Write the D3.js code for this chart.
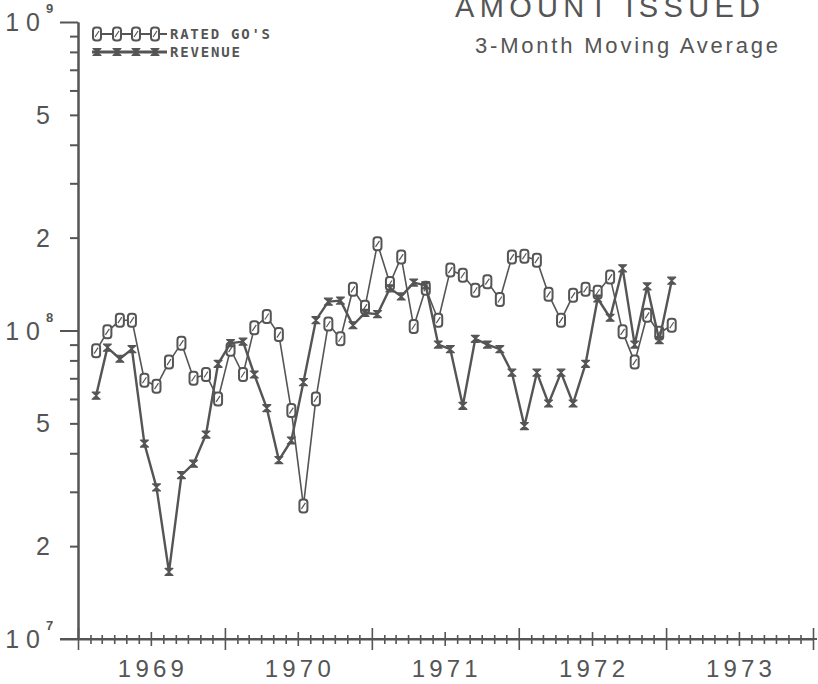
<!DOCTYPE html>
<html>
<head>
<meta charset="utf-8">
<script src="https://cdn.jsdelivr.net/npm/d3@7"></script>
<style>
  body { margin: 0; background: #fff; }
  svg { display: block; }
  text { fill: #555; font-family: "Liberation Sans", Arial, sans-serif; }
  .axis path, .axis line { stroke: #555; stroke-width: 2; }
</style>
</head>
<body>
<div id="chart"></div>
<script>
// Month of each 3-month moving average point
var months = ["1969-02","1969-03","1969-04","1969-05","1969-06","1969-07","1969-08","1969-09","1969-10","1969-11","1969-12",
  "1970-01","1970-02","1970-03","1970-04","1970-05","1970-06","1970-07","1970-08","1970-09","1970-10","1970-11","1970-12",
  "1971-01","1971-02","1971-03","1971-04","1971-05","1971-06","1971-07","1971-08","1971-09","1971-10","1971-11","1971-12",
  "1972-01","1972-02","1972-03","1972-04","1972-05","1972-06","1972-07","1972-08","1972-09","1972-10","1972-11","1972-12",
  "1973-01"];

// Amount issued, millions of dollars
var rated = [86, 99, 108, 108, 69, 66, 79, 91, 70, 72, 60,
  87, 72, 102, 111, 97, 55, 27, 60, 105, 94, 136, 119,
  191, 142, 173, 103, 137, 108, 157, 151, 135, 144, 126, 173,
  174, 169, 131, 108, 130, 136, 133, 149, 99, 79, 112, 98,
  104];
var revenue = [61.5, 88, 81, 87, 43, 31, 16.5, 34, 37, 46, 78,
  91, 92, 72, 56, 38, 44, 68, 108, 124, 125, 104, 114,
  113, 137, 129, 143, 140, 90, 87, 57, 94, 90, 87, 73,
  49, 73, 58, 73, 58, 78, 127, 110, 159, 90, 139, 93,
  145];

// Axis labels
var years = [1969, 1970, 1971, 1972, 1973];
var yLabels = [1e7, 2e7, 5e7, 1e8, 2e8, 5e8, 1e9];
var legendNames = ["RATED GO'S", "REVENUE"];

(function() {

    var width = 818, height = 684;
    var margin = { top: 22, left: 78, right: 5, bottom: 45 };
    var ink = "#555";

    var svg = d3.select("#chart")
        .append("svg")
        .attr("width", width)
        .attr("height", height);

    var parseMonth = d3.timeParse("%Y-%m");
    // Points sit in the middle of their month
    var dates = months.map(function(m) { return d3.timeDay.offset(parseMonth(m), 14); });

    var x = d3.scaleTime()
        .domain([new Date(1969, 0, 1), new Date(1974, 0, 1)])
        .range([margin.left, width - margin.right]);

    var y = d3.scaleLog()
        .domain([1e7, 1e9])
        .range([height - margin.bottom, margin.top]);

    // Y axis: decade ticks long, the others short
    var decades = [1e7, 1e8, 1e9];
    var minors = [];
    [1e7, 1e8].forEach(function(d) {
        for (var i = 2; i < 10; i++) minors.push(d * i);
    });

    svg.append("g")
        .attr("class", "axis")
        .attr("transform", "translate(" + margin.left + ",0)")
        .call(d3.axisLeft(y).tickValues(decades).tickSize(18).tickSizeOuter(0).tickFormat(""));
    svg.append("g")
        .attr("class", "axis")
        .attr("transform", "translate(" + margin.left + ",0)")
        .call(d3.axisLeft(y).tickValues(minors).tickSize(8).tickSizeOuter(0).tickFormat(""));

    // Y labels: "10" with exponent, or just the digit
    yLabels.forEach(function(v) {
        var e = Math.floor(Math.log10(v) + 1e-9);
        var lead = Math.round(v / Math.pow(10, e));
        var t = svg.append("text")
            .attr("x", 50)
            .attr("y", y(v) + 9)
            .attr("text-anchor", "end")
            .style("font-size", "25px");
        if (lead == 1) {
            t.attr("x", 47).style("letter-spacing", "7px").text("10");
            svg.append("text")
                .attr("x", 46)
                .attr("y", y(v) - 9)
                .style("font-size", "13px")
                .style("font-weight", "bold")
                .text(e);
        } else {
            t.text(lead);
        }
    });

    // X axis: month, half-year and year ticks all cross the line
    var allMonths = d3.timeMonth.range(x.domain()[0], d3.timeMonth.offset(x.domain()[1], 1));
    var tickSets = [
        { vals: allMonths.filter(function(d) { return d.getMonth() != 0 && d.getMonth() != 6; }), up: 4, down: 5 },
        { vals: allMonths.filter(function(d) { return d.getMonth() == 6; }), up: 7, down: 7 },
        { vals: allMonths.filter(function(d) { return d.getMonth() == 0; }), up: 11, down: 11 }
    ];
    tickSets.forEach(function(s, i) {
        var g = svg.append("g")
            .attr("class", "axis")
            .attr("transform", "translate(0," + y(1e7) + ")")
            .call(d3.axisBottom(x).tickValues(s.vals).tickSize(s.down).tickSizeOuter(0).tickFormat(""));
        g.selectAll(".tick line").attr("y1", -s.up).style("stroke-width", 1.6);
        if (i > 0) g.select(".domain").remove();
    });
    // extend the base line left to meet the 10^7 tick
    svg.append("line")
        .attr("x1", margin.left - 18).attr("x2", width - 1)
        .attr("y1", y(1e7)).attr("y2", y(1e7))
        .attr("stroke", ink).attr("stroke-width", 2);

    // Year labels centred in each year
    svg.selectAll(".year")
        .data(years)
        .enter().append("text")
        .attr("class", "year")
        .attr("x", function(d) { return x(new Date(d, 6, 1)); })
        .attr("y", 677)
        .attr("text-anchor", "middle")
        .attr("textLength", 66)
        .attr("lengthAdjust", "spacing")
        .style("font-size", "24px")
        .text(function(d) { return d; });

    // Titles (the first one is cut by the top edge, as in the source)
    svg.append("text")
        .attr("x", 455).attr("y", 17)
        .attr("textLength", 305).attr("lengthAdjust", "spacing")
        .style("font-size", "29px")
        .text("AMOUNT ISSUED");
    svg.append("text")
        .attr("x", 475).attr("y", 53)
        .attr("textLength", 303).attr("lengthAdjust", "spacing")
        .style("font-size", "22px")
        .text("3-Month Moving Average");

    // Marker shapes
    function zeroMark(sel) {
        sel.append("rect")
            .attr("x", -4).attr("y", -6.5).attr("width", 8).attr("height", 13)
            .attr("rx", 3).attr("ry", 3)
            .attr("fill", "#fff").attr("stroke", ink).attr("stroke-width", 2);
        sel.append("line")
            .attr("x1", -2).attr("y1", 3).attr("x2", 2).attr("y2", -3)
            .attr("stroke", ink).attr("stroke-width", 1.2);
    }
    function bowMark(sel) {
        sel.append("path")
            .attr("d", "M-4,-3.5H4L-4,3.5H4Z")
            .attr("fill", ink).attr("stroke", ink).attr("stroke-width", 1.2)
            .attr("stroke-linejoin", "round");
    }

    var line = d3.line()
        .x(function(d) { return x(d.date); })
        .y(function(d) { return y(d.value * 1e6); });

    var series = [
        { name: legendNames[0], values: rated, width: 1.6, mark: zeroMark },
        { name: legendNames[1], values: revenue, width: 2.4, mark: bowMark }
    ];

    series.forEach(function(s) {
        var pts = s.values.map(function(v, i) { return { date: dates[i], value: v }; });
        svg.append("path")
            .datum(pts)
            .attr("d", line)
            .attr("fill", "none")
            .attr("stroke", ink)
            .attr("stroke-width", s.width)
            .attr("stroke-linejoin", "round");
        svg.selectAll(null)
            .data(pts)
            .enter().append("g")
            .attr("transform", function(d) { return "translate(" + x(d.date) + "," + y(d.value * 1e6) + ")"; })
            .call(s.mark);
    });

    // Legend
    var legend = svg.append("g").attr("transform", "translate(92,34)");
    series.forEach(function(s, i) {
        var row = legend.append("g").attr("transform", "translate(0," + (i * 18) + ")");
        row.append("line")
            .attr("x1", 0).attr("x2", 75)
            .attr("stroke", ink).attr("stroke-width", s.width + 0.4);
        [5, 25, 44, 63].forEach(function(px) {
            row.append("g").attr("transform", "translate(" + px + ",0)").call(s.mark);
        });
        row.append("text")
            .attr("x", 78).attr("y", 5)
            .attr("textLength", s.name.length * 10)
            .attr("lengthAdjust", "spacing")
            .style("font-family", "'DejaVu Sans Mono', monospace")
            .style("font-weight", "bold")
            .style("font-size", "14px")
            .text(s.name);
    });

}());
</script>
</body>
</html>
